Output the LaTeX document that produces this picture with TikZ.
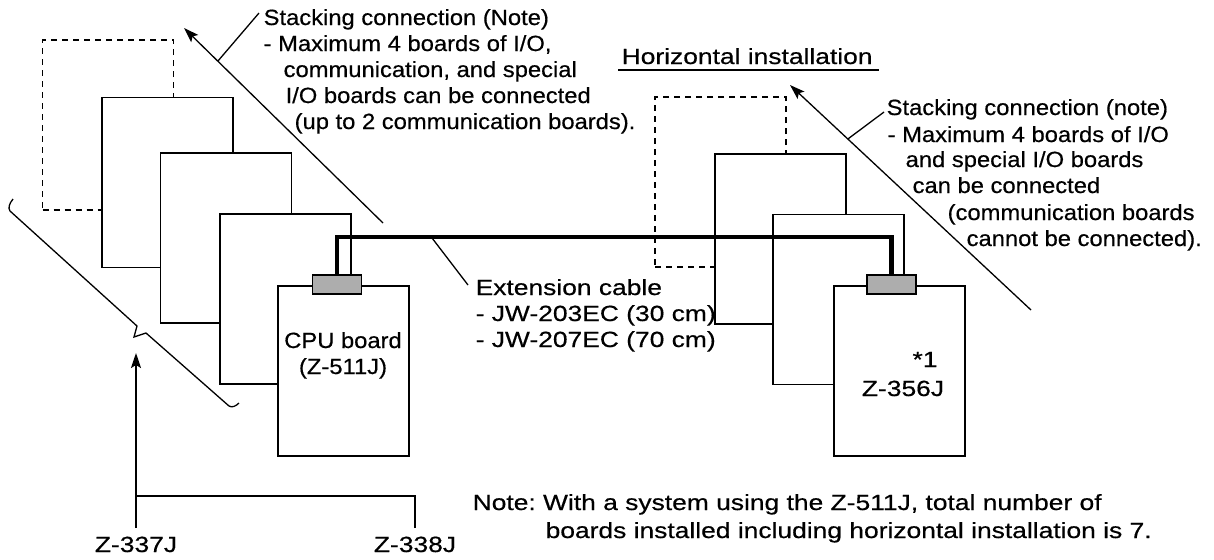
\documentclass[tikz,border=0pt]{standalone}
\usepackage{fontspec}
\setmainfont{Liberation Sans}[FakeStretch=1.2,FakeBold=0.5]
\newfontfamily\narrowfont{Liberation Sans}[FakeStretch=1.08,FakeBold=0.5]
\usetikzlibrary{arrows.meta,positioning,calc}
\frenchspacing

\begin{document}
\begin{tikzpicture}[x=0.5pt,y=-0.5pt,line width=0.65pt,
  board/.style={draw,fill=white,minimum width=65.5pt,minimum height=85pt,inner sep=0pt},
  ghost/.style={board,dash pattern=on 3pt off 2.5pt},
  plug/.style={draw,fill=black!32,minimum width=24.5pt,minimum height=9.5pt,inner sep=0pt},
  cable/.style={line width=2.3pt,line join=miter},
  arr/.style={-{Stealth[length=7.5pt,width=5pt,inset=1.5pt]}},
  txt/.style={inner sep=0pt,anchor=base west,font=\fontsize{11}{13}\selectfont},
  ntxt/.style={txt,font=\narrowfont\fontsize{11}{13}\selectfont},
  ctxt/.style={txt,anchor=base}]
\useasboundingbox (0,0) rectangle (1214,559);
% left stack
\node[ghost] (lg) at (108,125) {};\node[board] (l1) at (167.5,182.5) {};
\node[board] (l2) at (226,238) {};\node[board] (l3) at (285.5,299) {};
\node[board] (cpu) at (343.5,371) {};
% horizontal stack
\node[ghost] (rg) at (720.5,182) {};\node[board] (r1) at (780.5,239) {};
\node[board] (r2) at (838.5,299.5) {};\node[board] (zb) at (899.5,371) {};
% cable
\coordinate (ct) at (0,237);
\node[plug] (pl) at (337,284.5) {};\node[plug] (pr) at (891.5,284.5) {};
\draw[cable] (pl.north) -- (pl.north |- ct) -- (pr.north |- ct) -- (pr.north);
\node[plug] at (pl) {};\node[plug] at (pr) {};
\node[ctxt,font=\narrowfont\fontsize{11}{13}\selectfont] (cpu1) at (343,348) {CPU board};
\node[ctxt,font=\narrowfont\fontsize{11}{13}\selectfont] (cpu2) at (343,374) {(Z-511J)};
\node[ctxt] (star) at (925,367) {*1};\node[ctxt] (zname) at (903,396) {Z-356J};
% stacking arrows
\coordinate (lt) at (383,223);\coordinate (lh) at (184,28);\draw[arr] (lt) -- (lh);
\coordinate (rt) at (1031,310);\coordinate (rh) at (790,85);\draw[arr] (rt) -- (rh);
\node[ntxt] (sl1) at (263,25) {Stacking connection (Note)};
\node[ntxt] (sl2) at (263,51) {- Maximum 4 boards of I/O,};
\node[ntxt] (sl3) at (283,77) {communication, and special};
\node[ntxt] (sl4) at (285,103) {I/O boards can be connected};
\node[ntxt] (sl5) at (294,129) {(up to 2 communication boards).};
\draw ($(lh)!0.17!(lt)$) -- ([shift={(-4,-12)}]sl1.base west);
\node[txt] (hz) at (621,64) {Horizontal installation};
\draw ([shift={(-3,6)}]hz.base west) -- ([shift={(6,6)}]hz.base east);
\node[ntxt] (sr1) at (886,115) {Stacking connection (note)};
\node[ntxt] (sr2) at (887,142) {- Maximum 4 boards of I/O};
\node[ntxt] (sr3) at (905,167) {and special I/O boards};
\node[ntxt] (sr4) at (912,193) {can be connected};
\node[ntxt] (sr5) at (947,220) {(communication boards};
\node[ntxt] (sr6) at (966,246) {cannot be connected).};
\draw ($(rh)!0.24!(rt)$) -- ([shift={(-2,-3)}]sr1.base west);
% cable label
\node[txt] (ex1) at (475,295) {Extension cable};
\node[txt] (ex2) at (475,321) {- JW-203EC (30 cm)};
\node[txt] (ex3) at (475,347) {- JW-207EC (70 cm)};
\draw ($(pl.north |- ct)!0.17!(pr.north |- ct)$) -- ([shift={(-7,-10)}]ex1.base west);
% break line and base units
\draw (13,199) .. controls (9,204) and (8,208) .. (10,211) -- (137,326) -- (134,337) -- (146,333)
  -- (229,406) .. controls (232,408) and (236,406) .. (239,403);
\node[ctxt] (z337) at (136,552) {Z-337J};\node[ctxt] (z338) at (415,552) {Z-338J};
\coordinate (zt) at (136,353);\coordinate (zj) at (136,496);
\draw[arr,shorten <=4pt] (z337.north) -- (zt);
\draw[shorten <=4pt] (z338.north) |- (zj);
\node[txt] (n1) at (472,510) {Note: With a system using the Z-511J, total number of};
\node[txt] (n2) at (545,538) {boards installed including horizontal installation is 7.};
\end{tikzpicture}
\end{document}
